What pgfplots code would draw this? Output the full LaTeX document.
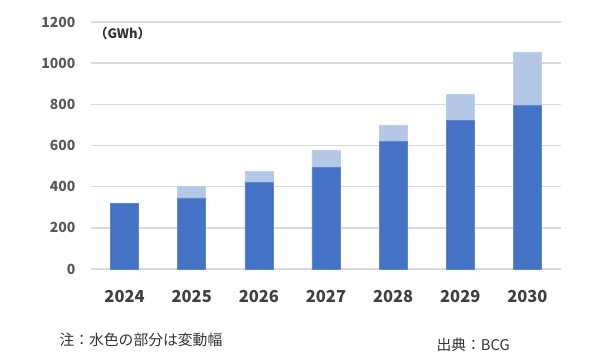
\documentclass[border=0pt]{standalone}
\usepackage{fontspec}
\setmainfont{Noto Sans CJK JP}
\usepackage{pgfplots}
\pgfplotsset{compat=1.18}
\definecolor{dark}{HTML}{4472C4}
\definecolor{light}{HTML}{B4C7E7}
\definecolor{gridc}{HTML}{D9D9D9}
\definecolor{tickc}{HTML}{595959}
\begin{document}
\begin{tikzpicture}[x=1pt,y=1pt]
\useasboundingbox (0,0) rectangle (600,362);
\begin{axis}[
  at={(91pt,93pt)}, anchor=south west,
  scale only axis, width=470pt, height=247pt,
  ybar stacked, bar width=28pt,
  xmin=-0.5, xmax=6.5, ymin=0, ymax=1200,
  xtick={0,...,6},
  xticklabels={2024,2025,2026,2027,2028,2029,2030},
  ytick={0,200,...,1200},
  axis line style={draw=none},
  major tick length=0pt,
  ymajorgrids, grid style={gridc, line width=1.4pt},
  /pgf/number format/assume math mode=true,
  /pgf/number format/1000 sep={},
  xticklabel style={font=\fontsize{16.5}{18}\selectfont\bfseries, text=black!75, yshift=-18pt},
  yticklabel style={font=\fontsize{14}{16}\selectfont\bfseries, text=tickc, xshift=-12pt},
  clip=false,
]
\addplot[fill=dark, draw=dark!85!white, line width=0.6pt] coordinates {(0,320) (1,345) (2,420) (3,495) (4,620) (5,720) (6,795)};
\addplot[fill=light, draw=light!85!white, line width=0.6pt] coordinates {(0,0) (1,55) (2,55) (3,82) (4,80) (5,130) (6,256)};
\node[anchor=west, font=\fontsize{13}{15}\selectfont\bfseries, text=black!80] at (rel axis cs:0,0.955) {（GWh）};
\end{axis}
\node[anchor=west, font=\fontsize{14.8}{17}\selectfont, text=black!80] at (56,22) {注：水色の部分は変動幅};
\node[anchor=west, font=\fontsize{14.8}{17}\selectfont, text=black!80] at (433,17) {出典：BCG};
\end{tikzpicture}
\end{document}
